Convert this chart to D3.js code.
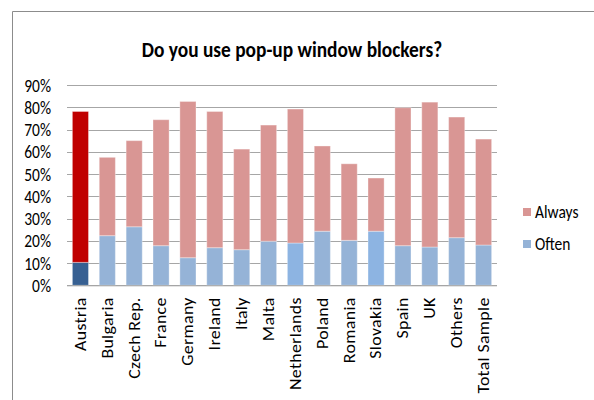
<!DOCTYPE html>
<html><head><meta charset="utf-8">
<script src="https://cdn.jsdelivr.net/npm/d3@7"></script>
<style>body{margin:0;background:#fff}svg{display:block}</style>
</head><body>
<script>
const categories = ["Austria","Bulgaria","Czech Rep.","France","Germany","Ireland","Italy","Malta","Netherlands","Poland","Romania","Slovakia","Spain","UK","Others","Total Sample"];
const oftenValues = [10.3,22.3,26.3,17.8,12.4,16.9,16.0,19.8,19.0,24.3,20.2,24.3,17.8,17.2,21.4,18.1];
const alwaysValues = [67.8,35.2,38.7,56.6,70.2,61.2,45.2,52.2,60.2,38.3,34.4,23.9,62.0,65.1,54.2,47.6];
const yTicks = [0,10,20,30,40,50,60,70,80,90];
const seriesNames = ["Always","Often"];
const alwaysColors = ["#C00000","#D99694","#D99694","#D99694","#D99694","#D99694","#D99694","#D99694","#D99694","#D99694","#D99694","#D99694","#D99694","#D99694","#D99694","#D99694"];
const oftenColors = ["#376092","#95B3D7","#95B3D7","#95B3D7","#95B3D7","#95B3D7","#95B3D7","#95B3D7","#8DB4E2","#95B3D7","#95B3D7","#8DB4E2","#95B3D7","#95B3D7","#95B3D7","#95B3D7"];

const W = 594, H = 400;
const svg = d3.select("body").append("svg").attr("width", W).attr("height", H);
const font = "Carlito, 'Liberation Sans Narrow', 'Open Sans', sans-serif";

// outer frame
svg.append("path").attr("d", `M12.5,400 V11.5 H594`).attr("fill","none").attr("stroke","#8c8c8c").attr("stroke-width",1);

const m = {left: 67, right: 497, top: 85, bottom: 285.3};
const x = d3.scaleBand().domain(categories).range([m.left, m.right]).paddingInner(0.4).paddingOuter(0.2);
const y = d3.scaleLinear().domain([0, 90]).range([m.bottom, m.top]);

// gridlines
svg.append("g").selectAll("line").data(yTicks).join("line")
  .attr("x1", m.left).attr("x2", m.right)
  .attr("y1", d => Math.round(y(d)) + 0.5).attr("y2", d => Math.round(y(d)) + 0.5)
  .attr("stroke", "#a6a6a6").attr("stroke-width", 1);

// y axis labels
const yAxis = d3.axisLeft(y).tickValues(yTicks).tickFormat(d => d + "%").tickSize(0).tickPadding(0);
const gy = svg.append("g").attr("transform", `translate(${m.left - 16},0)`).call(yAxis);
gy.select(".domain").remove();
gy.selectAll("text").attr("font-family", font).attr("font-size", 15.5).attr("fill", "#000")
  .attr("dy", "0.34em").attr("transform", "scale(1,1.15)");

// bars
const data = categories.map((c, i) => ({c, i, often: oftenValues[i], always: alwaysValues[i]}));
const bars = svg.append("g");
bars.selectAll("rect.often").data(data).join("rect").attr("class","often")
  .attr("x", d => x(d.c)).attr("width", x.bandwidth())
  .attr("y", d => y(d.often)).attr("height", d => y(0) - y(d.often))
  .attr("fill", d => oftenColors[d.i]).attr("stroke","#ffffff").attr("stroke-opacity",0.35).attr("stroke-width",1);
bars.selectAll("rect.always").data(data).join("rect").attr("class","always")
  .attr("x", d => x(d.c)).attr("width", x.bandwidth())
  .attr("y", d => y(d.often + d.always)).attr("height", d => y(d.often) - y(d.often + d.always))
  .attr("fill", d => alwaysColors[d.i]).attr("stroke","#ffffff").attr("stroke-opacity",0.35).attr("stroke-width",1);

// x axis
const xAxis = d3.axisBottom(x).tickSize(0).tickPadding(0);
const gx = svg.append("g").attr("transform", `translate(0,${m.bottom})`).call(xAxis);
gx.select(".domain").attr("stroke", "#a6a6a6").attr("d", `M${m.left},0.5H${m.right}`);
gx.selectAll("text")
  .attr("font-family", font).attr("font-size", 15.5).attr("fill", "#000")
  .attr("text-anchor", "end").attr("dy", "0.35em")
  .attr("transform", "translate(0,12) rotate(-90) scale(1.15,1)")
  .attr("x", 0).attr("y", 0).style("letter-spacing", "0.3px");

// title
svg.append("text").attr("transform", "translate(292,57) scale(1.02,1.15)").attr("text-anchor","middle")
  .attr("font-family", font).attr("font-weight","bold").attr("font-size", 19)
  .text("Do you use pop-up window blockers?");

// legend
const leg = svg.append("g");
const legColors = ["#D99694", "#95B3D7"];
seriesNames.forEach((n, i) => {
  const yy = 208 + i * 32;
  leg.append("rect").attr("x", 523).attr("y", yy).attr("width", 8).attr("height", 8).attr("fill", legColors[i]);
  leg.append("text").attr("transform", `translate(535,${yy + 4}) scale(1,1.15)`).attr("dy","0.35em")
    .attr("font-family", font).attr("font-size", 15.5).text(n);
});
</script>
</body></html>
